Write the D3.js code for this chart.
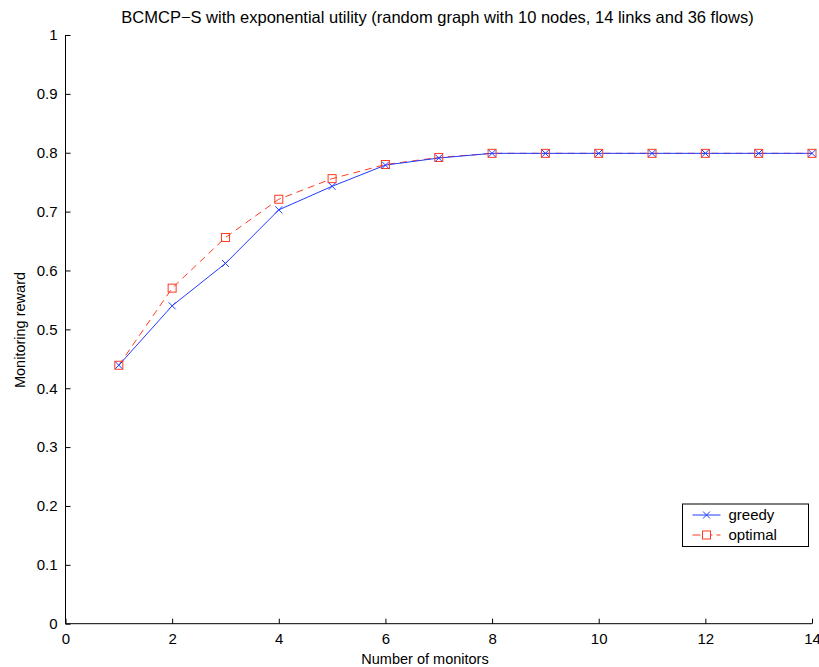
<!DOCTYPE html>
<html><head><meta charset="utf-8">
<script src="https://cdn.jsdelivr.net/npm/d3@7"></script>
<style>body{margin:0;background:#fff}svg{display:block}text{font-family:"Liberation Sans",Arial,Helvetica,sans-serif}</style>
</head><body>
<script>
const monitors = [1,2,3,4,5,6,7,8,9,10,11,12,13,14];
const greedy  = [0.439,0.540,0.612,0.703,0.743,0.779,0.791,0.799,0.799,0.799,0.799,0.799,0.799,0.799];
const optimal = [0.439,0.570,0.656,0.721,0.756,0.780,0.792,0.799,0.799,0.799,0.799,0.799,0.799,0.799];
const xTicks = [0,2,4,6,8,10,12,14];
const yTicks = [0,0.1,0.2,0.3,0.4,0.5,0.6,0.7,0.8,0.9,1];
const titleText = "BCMCP\u2212S with exponential utility (random graph with 10 nodes, 14 links and 36 flows)";

const W=819,H=667;
const svg=d3.select("body").append("svg").attr("width",W).attr("height",H);
const x=d3.scaleLinear().domain([0,14]).range([65.5,812]);
const y=d3.scaleLinear().domain([0,1]).range([623.7,35]);

const xAxis=svg.append("g").attr("transform",`translate(0,${y(0)})`)
  .call(d3.axisBottom(x).tickValues(xTicks).tickSize(-5).tickPadding(10).tickFormat(d3.format("d")));
const yAxis=svg.append("g").attr("transform",`translate(${x(0)},0)`)
  .call(d3.axisLeft(y).tickValues(yTicks).tickSize(-5).tickPadding(8).tickFormat(d=>d===0?"0":d===1?"1":d3.format(".1f")(d)));
[xAxis,yAxis].forEach(g=>{
  g.selectAll("path,line").attr("stroke","#000").attr("stroke-width",1);
  g.selectAll("text").attr("font-size",15).attr("fill","#000").style("font-family","Liberation Sans, Arial, sans-serif");
});
xAxis.select(".domain").attr("d",`M${x(0)},0H${x(14)}`);
yAxis.select(".domain").attr("d",`M0,${y(0)}V${y(1)}`);

const blue="#1f3cff", red="#ff3a1f";
const line=d3.line().x((d,i)=>x(monitors[i])).y(d=>y(d));

svg.append("path").datum(optimal).attr("d",line).attr("fill","none").attr("stroke",red).attr("stroke-width",1).attr("stroke-dasharray","7,5");
svg.append("path").datum(greedy).attr("d",line).attr("fill","none").attr("stroke",blue).attr("stroke-width",1);

const s=4;
svg.append("g").selectAll("rect").data(optimal).join("rect")
  .attr("x",(d,i)=>x(monitors[i])-s).attr("y",d=>y(d)-s).attr("width",2*s).attr("height",2*s)
  .attr("fill","none").attr("stroke",red).attr("stroke-width",1);
const c=3.5;
svg.append("g").selectAll("path").data(greedy).join("path")
  .attr("d",(d,i)=>{const cx=x(monitors[i]),cy=y(d);return `M${cx-c},${cy-c}L${cx+c},${cy+c}M${cx-c},${cy+c}L${cx+c},${cy-c}`;})
  .attr("stroke",blue).attr("stroke-width",1).attr("fill","none");

svg.append("text").attr("x",437.5).attr("y",23).attr("text-anchor","middle").attr("font-size",16.5).text(titleText);
svg.append("text").attr("x",425).attr("y",664).attr("text-anchor","middle").attr("font-size",14.5).text("Number of monitors");
svg.append("text").attr("transform","translate(25,330) rotate(-90)").attr("text-anchor","middle").attr("font-size",14.5).text("Monitoring reward");

// legend
const lg=svg.append("g").attr("transform","translate(682.5,504)");
lg.append("rect").attr("width",126).attr("height",42.5).attr("fill","#fff").attr("stroke","#000").attr("stroke-width",1);
const items=[{name:"greedy",col:blue,dash:null,m:"x"},{name:"optimal",col:red,dash:"7,5",m:"s"}];
items.forEach((it,i)=>{
  const cy=11+i*20;
  lg.append("line").attr("x1",10).attr("x2",38).attr("y1",cy).attr("y2",cy).attr("stroke",it.col).attr("stroke-width",1).attr("stroke-dasharray",it.dash?"8,4":null);
  if(it.m==="x") lg.append("path").attr("d",`M${24-c},${cy-c}L${24+c},${cy+c}M${24-c},${cy+c}L${24+c},${cy-c}`).attr("stroke",it.col).attr("fill","none");
  else lg.append("rect").attr("x",24-s).attr("y",cy-s).attr("width",2*s).attr("height",2*s).attr("fill","#fff").attr("stroke",it.col);
  lg.append("text").attr("x",46).attr("y",cy+5).attr("font-size",15).text(it.name);
});
</script>
</body></html>
